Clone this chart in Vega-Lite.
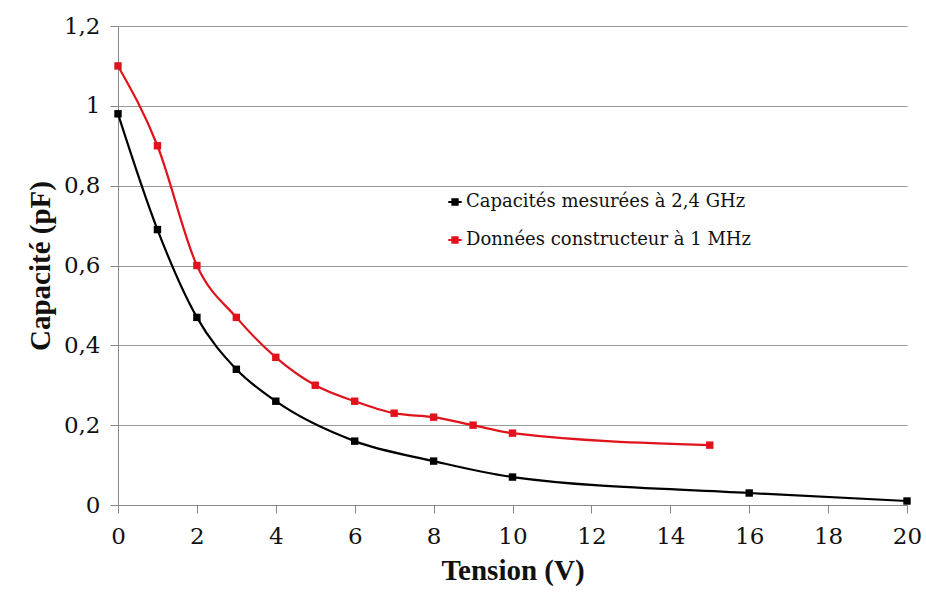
{
  "$schema": "https://vega.github.io/schema/vega-lite/v6.json",
  "autosize": "none",
  "width": 789,
  "height": 479,
  "padding": {"left": 118, "top": 26, "right": 19, "bottom": 102},
  "background": "white",
  "data": {"values": [
    {"s": "Capacités mesurées à 2,4 GHz", "v": 0, "c": 0.98},
    {"s": "Capacités mesurées à 2,4 GHz", "v": 1, "c": 0.69},
    {"s": "Capacités mesurées à 2,4 GHz", "v": 2, "c": 0.47},
    {"s": "Capacités mesurées à 2,4 GHz", "v": 3, "c": 0.34},
    {"s": "Capacités mesurées à 2,4 GHz", "v": 4, "c": 0.26},
    {"s": "Capacités mesurées à 2,4 GHz", "v": 6, "c": 0.16},
    {"s": "Capacités mesurées à 2,4 GHz", "v": 8, "c": 0.11},
    {"s": "Capacités mesurées à 2,4 GHz", "v": 10, "c": 0.07},
    {"s": "Capacités mesurées à 2,4 GHz", "v": 16, "c": 0.03},
    {"s": "Capacités mesurées à 2,4 GHz", "v": 20, "c": 0.01},
    {"s": "Données constructeur à 1 MHz", "v": 0, "c": 1.1},
    {"s": "Données constructeur à 1 MHz", "v": 1, "c": 0.9},
    {"s": "Données constructeur à 1 MHz", "v": 2, "c": 0.6},
    {"s": "Données constructeur à 1 MHz", "v": 3, "c": 0.47},
    {"s": "Données constructeur à 1 MHz", "v": 4, "c": 0.37},
    {"s": "Données constructeur à 1 MHz", "v": 5, "c": 0.3},
    {"s": "Données constructeur à 1 MHz", "v": 6, "c": 0.26},
    {"s": "Données constructeur à 1 MHz", "v": 7, "c": 0.23},
    {"s": "Données constructeur à 1 MHz", "v": 8, "c": 0.22},
    {"s": "Données constructeur à 1 MHz", "v": 9, "c": 0.2},
    {"s": "Données constructeur à 1 MHz", "v": 10, "c": 0.18},
    {"s": "Données constructeur à 1 MHz", "v": 15, "c": 0.15}
  ]},
  "encoding": {
    "x": {"field": "v", "type": "quantitative",
      "scale": {"domain": [0, 20], "nice": false},
      "axis": {"title": "Tension (V)", "values": [0,2,4,6,8,10,12,14,16,18,20], "grid": false, "labelFlush": false,
        "labelFont": "DejaVu Serif", "labelFontSize": 23, "labelColor": "#111", "labelPadding": 12,
        "titleFont": "Liberation Serif", "titleFontSize": 29, "titleFontWeight": "bold", "titleColor": "#111", "titlePadding": 8,
        "domainColor": "#888", "tickColor": "#888", "tickSize": 8}},
    "y": {"field": "c", "type": "quantitative",
      "scale": {"domain": [0, 1.2], "nice": false},
      "axis": {"title": "Capacité (pF)", "values": [0,0.2,0.4,0.6,0.8,1,1.2], "format": "~g",
        "labelExpr": "replace(datum.label, '.', ',')",
        "grid": true, "gridColor": "#999", "gridWidth": 1,
        "labelFont": "DejaVu Serif", "labelFontSize": 23, "labelColor": "#111", "labelPadding": 10,
        "titleFont": "Liberation Serif", "titleFontSize": 29, "titleFontWeight": "bold", "titleColor": "#111", "titlePadding": 8,
        "domainColor": "#888", "tickColor": "#888", "tickSize": 8}},
    "color": {"field": "s", "type": "nominal",
      "scale": {"domain": ["Capacités mesurées à 2,4 GHz", "Données constructeur à 1 MHz"], "range": ["#000000", "#e0121b"]},
      "legend": {"title": null, "orient": "none", "legendX": 328, "legendY": 167,
        "labelFont": "DejaVu Serif", "labelFontSize": 18, "labelColor": "#111", "labelLimit": 600,
        "symbolType": "M-1,0L1,0M-0.4,-0.4L0.4,-0.4L0.4,0.4L-0.4,0.4Z",
        "symbolSize": 180, "symbolStrokeWidth": 2, "labelOffset": 2, "rowPadding": 20}}
  },
  "layer": [
    {"mark": {"type": "line", "interpolate": "monotone", "strokeWidth": 2.2}},
    {"mark": {"type": "point", "shape": "square", "filled": true, "size": 55, "opacity": 1}}
  ],
  "config": {"view": {"stroke": null}}
}
